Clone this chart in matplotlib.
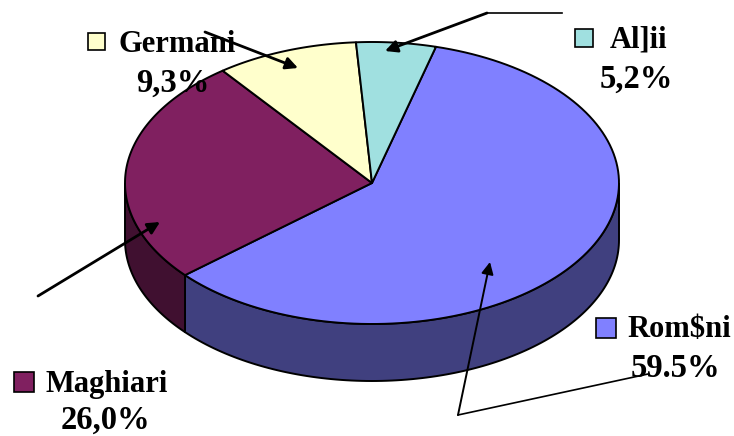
import numpy as np
import matplotlib.pyplot as plt
from matplotlib.patches import Polygon, Rectangle

# data
groups = ['Rom$ni', 'Maghiari', 'Germani', 'Al]ii']
shares = [59.5, 26.0, 9.3, 5.2]
share_labels = ['59.5%', '26,0%', '9,3%', '5,2%']

top_colors = ['#8080ff', '#802060', '#ffffcc', '#a0e0e0']
side_colors = ['#40407f', '#401030', '#7f7f66', '#507070']

# layout (pixel coords, y down)
cx, cy, ra, rb, depth = 372, 183, 247, 141, 57
start = 75.0
name_font = dict(family='Liberation Serif', weight='bold', fontsize=22)
pct_font = dict(family='Liberation Serif', weight='bold', fontsize=23.5)

# key square (x, y top, size), name left x, name baseline, pct centre x, pct baseline
label_pos = {
    'Rom$ni': (596, 318, 20, 627, 337, 675, 377),
    'Maghiari': (14, 372, 20, 45, 392, 105, 429),
    'Germani': (88, 33, 17, 118, 52, 173, 92),
    'Al]ii': (575, 29, 18, 610, 48, 636, 88),
}

fig = plt.figure(figsize=(7.34, 4.36), dpi=100)
ax = fig.add_axes([0, 0, 1, 1])
ax.set_xlim(0, 734)
ax.set_ylim(436, 0)
ax.axis('off')


def arc(t1, t2, n=120, dy=0):
    t = np.radians(np.linspace(t1, t2, n))
    return np.column_stack([cx + ra * np.cos(t), cy - rb * np.sin(t) + dy])


# slice angles, clockwise from start
bounds = []
a = start
for s in shares:
    b = a - s / 100 * 360
    bounds.append((b, a))
    a = b

# side walls (front half only)
for (t1, t2), col in zip(bounds, side_colors):
    t1n, t2n = t1 % 360, t1 % 360 + (t2 - t1)
    for off in (0, 360, -360):
        lo, hi = max(t1n + off, 180), min(t2n + off, 360)
        if hi > lo:
            top = arc(lo, hi)
            bot = arc(hi, lo, dy=depth)
            ax.add_patch(Polygon(np.vstack([top, bot]), closed=True,
                                 facecolor=col, edgecolor='black', lw=1.4))

# top faces
for (t1, t2), col in zip(bounds, top_colors):
    pts = np.vstack([[cx, cy], arc(t1, t2)])
    ax.add_patch(Polygon(pts, closed=True, facecolor=col,
                         edgecolor='black', lw=1.4, joinstyle='round'))

# labels with key squares
for g, p, col in zip(groups, share_labels, top_colors):
    kx, ky, ks, nx, nb, px, pb = label_pos[g]
    ax.add_patch(Rectangle((kx, ky), ks, ks, facecolor=col,
                           edgecolor='black', lw=1.2))
    ax.text(nx, nb, g, ha='left', va='baseline', parse_math=False, **name_font)
    ax.text(px, pb, p, ha='center', va='baseline', parse_math=False, **pct_font)

# leader lines
arrow = dict(arrowstyle='-|>', mutation_scale=18, lw=2, color='black',
             shrinkA=0, shrinkB=0)
ax.annotate('', xy=(298, 68), xytext=(205, 32), arrowprops=arrow)
ax.plot([562, 487], [13, 13], color='black', lw=1.2)
ax.annotate('', xy=(385, 51), xytext=(487, 13), arrowprops=arrow)
ax.annotate('', xy=(160, 222), xytext=(38, 296), arrowprops=arrow)
ax.plot([648, 458], [374, 415], color='black', lw=1.2)
ax.annotate('', xy=(490, 262), xytext=(458, 415),
            arrowprops=dict(arrow, lw=1.4))

fig.savefig('out.png', dpi=100)
